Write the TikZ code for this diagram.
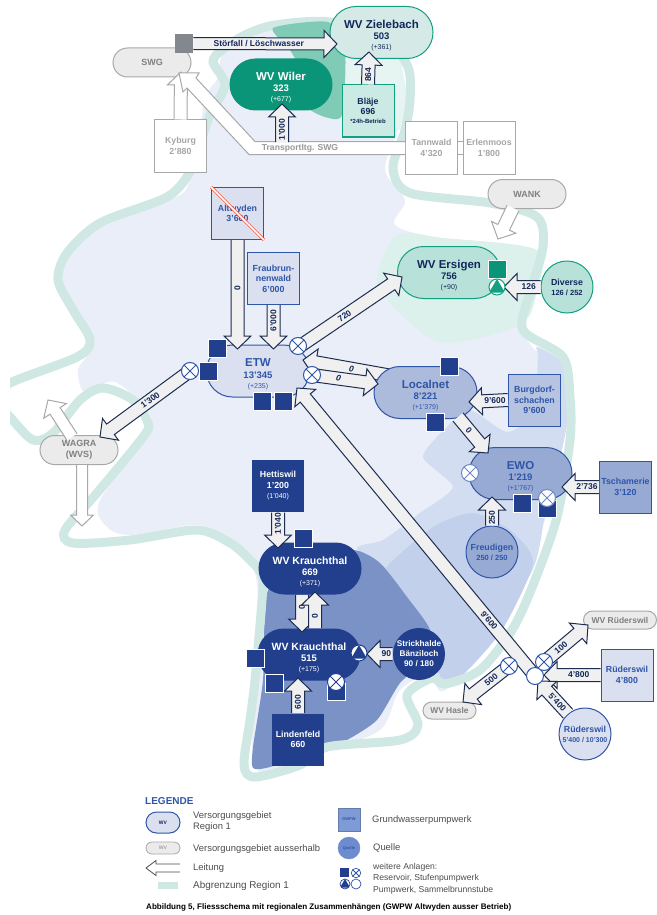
\documentclass[tikz,border=0pt]{standalone}
\usepackage{fontspec}
\setmainfont{Liberation Sans}
\usepackage{xcolor}
\usetikzlibrary{shapes.misc,calc}

\definecolor{lavender}{HTML}{E9EEF8}
\definecolor{zoneB}{HTML}{D2DDF1}
\definecolor{zoneC}{HTML}{C2D0EB}
\definecolor{zoneD}{HTML}{7A92C6}
\definecolor{bandteal}{HTML}{D0E8E3}
\definecolor{paleteal}{HTML}{DCF0EC}
\definecolor{midgreen}{HTML}{7FCBB6}
\definecolor{wvgreen}{HTML}{0B9578}
\definecolor{edgegreen}{HTML}{12A080}
\definecolor{navy}{HTML}{213F8C}
\definecolor{inkblue}{HTML}{2F55A8}
\definecolor{inkdark}{HTML}{12285A}
\definecolor{pipeline}{HTML}{1D2D50}
\definecolor{greyline}{HTML}{A8A8A8}
\definecolor{greytext}{HTML}{808080}
\definecolor{strike}{HTML}{F0583C}
\definecolor{leggwpwfill}{HTML}{7E9BD5}
\definecolor{legqfill}{HTML}{6D8CCF}

\pgfdeclarelayer{symbols}
\pgfsetlayers{main,symbols}

\tikzset{
    wvnode/.style={rounded rectangle,minimum width=103pt,minimum height=52pt,inner sep=0pt,
        align=center,line width=1pt,font=\fontsize{9.5}{12.5}\selectfont\bfseries},
    outnode/.style={rounded rectangle,minimum width=78pt,minimum height=29pt,inner sep=0pt,align=center,
        draw=greyline,fill=black!8,line width=1pt,text=greytext,
        font=\fontsize{9}{11}\selectfont\bfseries},
    gwpw/.style={rectangle,minimum size=52pt,inner sep=0pt,align=center,line width=1pt,
        font=\fontsize{8.8}{10.5}\selectfont\bfseries},
    greybox/.style={gwpw,draw=greyline,fill=white,text=black!35},
    quelle/.style={circle,minimum size=52pt,inner sep=0pt,align=center,line width=1pt,
        font=\fontsize{8.8}{10}\selectfont\bfseries},
    resbox/.style={rectangle,minimum size=18pt,inner sep=0pt,fill=#1,draw=white,line width=.5pt},
    resbox/.default=navy,
    xvalve/.style={circle,minimum size=17pt,inner sep=0pt,fill=white,draw=#1,line width=1pt,
        path picture={\draw[#1,line width=1pt]
            (path picture bounding box.north west) -- (path picture bounding box.south east)
            (path picture bounding box.north east) -- (path picture bounding box.south west);}},
    xvalve/.default=inkblue,
    pumpsym/.style={circle,minimum size=16pt,inner sep=0pt,fill=white,draw=#1,line width=1pt,
        path picture={\fill[#1]
            ($(path picture bounding box.south west)!.15!(path picture bounding box.north west)$)
            -- ($(path picture bounding box.south east)!.15!(path picture bounding box.north east)$)
            -- (path picture bounding box.north) -- cycle;}},
    brunnsym/.style={circle,minimum size=17pt,inner sep=0pt,fill=white,draw=inkblue,line width=1pt},
    pipebody/.style={draw=pipeline,fill=black!6,line width=1pt,miter limit=6},
    greypipe/.style={pipebody/.style={draw=greyline,fill=white,line width=1pt,miter limit=6}},
    legpipe/.style={pipebody/.style={draw=black!70,fill=white,line width=.8pt,miter limit=6}},
    pipelabel/.style={inner sep=0pt,text=inkdark,font=\fontsize{8.5}{9}\selectfont\bfseries},
    legtext/.style={anchor=west,inner sep=0pt,text=black!70,align=left,font=\fontsize{9.4}{11.5}\selectfont},
    pipew/.store in=\pipew, pipehw/.store in=\pipehw, pipehl/.store in=\pipehl, pipepos/.store in=\pipepos,
    pipew=6.5pt, pipehw=13.5pt, pipehl=13pt, pipepos=.5
}

% block arrow with open tail: [options]{from}{to}{label}{label angle}
\newcommand{\flowpipe}[5][]{
    \begin{scope}[#1]
        \coordinate (hb) at ($(#3)!\pipehl!(#2)$);
        \draw[pipebody] ($(#2)!\pipew!90:(#3)$) -- ($(hb)!\pipew!90:(#3)$)
            -- ($(hb)!\pipehw!90:(#3)$) -- (#3) -- ($(hb)!\pipehw!-90:(#3)$)
            -- ($(hb)!\pipew!-90:(#3)$) -- ($(#2)!\pipew!-90:(#3)$);
        \path (#2) -- (hb) node[pipelabel,pos=\pipepos,rotate=#5] {#4};
    \end{scope}
}
\newcommand{\wvtext}[3]{{\rule{0pt}{14pt}\fontsize{11.5}{13}\selectfont #1}\\[-1pt]{\fontsize{9.5}{12}\selectfont #2}\\[-2.5pt]{\fontsize{7}{9}\selectfont\mdseries #3}}

\begin{document}
\begin{tikzpicture}[x=1pt,y=-1pt]
    \useasboundingbox (0,0) rectangle (656,915);

    % Regions
    \fill[lavender] plot[smooth cycle,tension=0.55] coordinates {(222,56) (243,42) (275,28) (330,30) (395,62)
        (403,100) (398,130) (385,170) (405,200) (395,225) (440,238) (535,250) (537,290) (523,325) (535,350)
        (562,365) (568,400) (560,460) (545,520) (520,590) (448,688) (430,675) (400,690) (380,730) (325,750)
        (260,772) (252,700) (258,600) (250,560) (230,540) (197,525) (130,535) (105,525) (100,500) (145,440)
        (150,415) (115,382) (85,392) (78,370) (88,345) (62,280) (70,250) (100,228) (170,200) (190,180)
        (205,100) (218,78)};
    \fill[zoneB] plot[smooth cycle,tension=0.4] coordinates {(537,347) (562,362) (570,400) (563,445) (545,515)
        (530,575) (448,687) (430,640) (380,575) (357,548) (383,540) (420,513) (453,487) (423,457) (447,427)
        (470,410) (507,432) (533,413) (538,357)};
    \fill[zoneC] plot[smooth cycle,tension=0.4] coordinates {(383,572) (433,527) (473,513) (510,530) (533,563)
        (500,633) (448,687) (432,650) (400,600)};
    \fill[zoneD] plot[smooth cycle,tension=0.4] coordinates {(353,550) (380,563) (407,597) (430,630) (425,660)
        (400,683) (377,720) (347,740) (323,750) (270,767) (253,768) (253,747) (263,680) (267,593) (300,560)};
    \fill[paleteal] plot[smooth cycle,tension=0.5] coordinates {(397,235) (443,238) (537,250) (537,290)
        (523,323) (470,340) (433,340) (390,303) (377,277)};
    \fill[paleteal!70] (345,55) -- (400,55) -- (408,100) -- (400,130) -- (343,118) -- cycle;
    \begin{scope}
        \clip (10,0) rectangle (656,915);
        \draw[bandteal,line width=9pt] plot[smooth cycle,tension=0.5] coordinates {(213,62) (222,50) (245,35)
            (275,25) (330,22) (385,40) (408,67) (410,100) (405,130) (393,168) (410,193) (490,203) (537,217)
            (543,247) (530,293) (523,330) (563,357) (570,397) (570,440) (557,517) (533,585) (512,630) (480,670)
            (445,684) (432,678) (407,695) (418,725) (400,740) (327,747) (300,765) (255,777) (244,765) (250,720)
            (255,680) (262,600) (262,575) (247,557) (230,543) (197,530) (130,540) (73,543) (65,530) (97,493)
            (143,437) (148,423) (133,400) (103,388) (80,400) (53,433) (33,440) (10,417) (-5,400) (10,383)
            (77,357) (90,340) (73,310) (58,280) (67,253) (100,223) (167,197) (190,172) (198,150) (210,115) (225,85)};
    \end{scope}
    \fill[midgreen] plot[smooth cycle,tension=0.4] coordinates {(273,28) (328,22) (345,50) (342,115) (325,117)
        (305,105) (300,70) (290,50)};

    % Supply areas
    \node[wvnode,draw=edgegreen,fill=bandteal!90,text=inkdark] (zielebach) at (381.5,32.5) {\wvtext{WV Zielebach}{503}{(+361)}};
    \node[wvnode,fill=wvgreen,text=white] (wiler) at (281,84.5) {\wvtext{WV Wiler}{323}{(+677)}};
    \node[wvnode,draw=edgegreen,fill=edgegreen!30,text=inkdark] (ersigen) at (449,272.5) {\wvtext{WV Ersigen}{756}{(+90)}};
    \node[wvnode,draw=inkblue,fill=inkblue!18,text=inkblue] (etw) at (258,371) {\wvtext{ETW}{13'345}{(+235)}};
    \node[wvnode,draw=inkblue,fill=inkblue!50,text=inkblue] (ewo) at (520.5,473.5) {\wvtext{EWO}{1'219}{(+1'767)}};
    \node[wvnode,fill=navy,text=white] (krauchA) at (310,568.5) {\wvtext{\fontsize{10.5}{13}\selectfont WV Krauchthal}{669}{(+371)}};
    \node[wvnode,fill=navy,text=white] (krauchB) at (309,654.5) {\wvtext{\fontsize{10.5}{13}\selectfont WV Krauchthal}{515}{(+175)}};

    % Outside areas
    \node[outnode] (swg) at (152,62.5) {SWG};
    \node[outnode] (wank) at (527,194) {WANK};
    \node[outnode] (wagra) at (79,450) {WAGRA\\(WVS)};
    \node[outnode,minimum width=73pt,minimum height=18pt,font=\fontsize{8.5}{9}\selectfont\bfseries] (wvruederswil) at (620,620) {WV Rüderswil};
    \node[outnode,minimum width=53pt,minimum height=17pt,font=\fontsize{8.4}{9}\selectfont\bfseries] (hasle) at (449.5,710.5) {WV Hasle};

    % Pumping stations
    \node[gwpw,draw=edgegreen,fill=edgegreen!22,text=inkdark] (blaeje) at (368,111) {Bläje\\696\\[-1.5pt]{\fontsize{6}{8}\selectfont *24h-Betrieb}};
    \node[greybox] (kyburg) at (180.5,146) {Kyburg\\2'880};
    \node[greybox] (tannwald) at (431.5,148) {Tannwald\\4'320};
    \node[greybox] (erlenmoos) at (489,148) {Erlenmoos\\1'800};
    \node[gwpw,draw=inkblue,fill=inkblue!18,text=inkblue] (altwyden) at (237.5,213.5) {Altwyden\\3'600};
    \node[gwpw,draw=inkblue,fill=inkblue!18,text=inkblue] (fraubrunnen) at (273.5,278.5) {Fraubrun-\\nenwald\\6'000};
    \node[gwpw,draw=inkblue,fill=inkblue!35,text=inkblue] (burgdorf) at (534.5,400) {Burgdorf-\\schachen\\9'600};
    \node[gwpw,draw=inkblue,fill=inkblue!50,text=inkblue] (tschamerie) at (625.5,487) {Tschamerie\\3'120};
    \node[gwpw,fill=navy,text=white] (hettiswil) at (278,486) {Hettiswil\\1'200\\{\fontsize{7}{9}\selectfont\mdseries (1'040)}};
    \node[gwpw,fill=navy,text=white] (lindenfeld) at (298,739.5) {Lindenfeld\\660};
    \node[gwpw,draw=inkblue,fill=inkblue!18,text=inkblue] (ruederswilbox) at (627,675) {Rüderswil\\4'800};

    % Springs
    \node[quelle,draw=edgegreen,fill=edgegreen!30,text=inkdark] (diverse) at (567,287) {Diverse\\{\fontsize{7.5}{9}\selectfont 126 / 252}};
    \node[quelle,draw=inkblue,fill=inkblue!50,text=inkblue] (freudigen) at (492,552) {Freudigen\\{\fontsize{7.5}{9}\selectfont 250 / 250}};
    \node[quelle,fill=navy,text=white,font=\fontsize{8.2}{10}\selectfont\bfseries] (strickhalde) at (419,654) {Strickhalde\\Bänziloch\\90 / 180};
    \node[quelle,draw=inkblue,fill=inkblue!18,text=inkblue] (ruederswilq) at (585,734) {Rüderswil\\{\fontsize{7}{9}\selectfont 5'400 / 10'300}};

    % Small plants
    \begin{pgfonlayer}{symbols}
        \node[rectangle,minimum size=18.5pt,fill=black!55!cyan!20!gray,inner sep=0pt] (stoerbox) at (184,43.5) {};
        \node[resbox=wvgreen] (ersres) at (497.5,269.5) {};
        \node[pumpsym=edgegreen] (erspump) at (497,287) {};
        \node[xvalve] (xnorth) at (298,346) {};
        \node[xvalve] (xeast) at (312,375) {};
        \node[xvalve] (xwest) at (190,371) {};
        \node[resbox] at (217,348) {};
        \node[resbox] at (208,371) {};
        \node[resbox] at (262,401) {};
        \node[resbox] at (283,401) {};
        \node[resbox] at (449,366) {};
        \node[resbox] at (435,422) {};
        \node[xvalve=inkblue!70] at (470,473) {};
        \node[resbox] at (522,503) {};
        \node[resbox,minimum height=17pt] at (547,508.5) {};
        \node[xvalve=inkblue!70] at (547,498) {};
        \node[resbox] at (303,538) {};
        \node[resbox] at (255,658) {};
        \node[resbox] at (274,683) {};
        \node[pumpsym=navy] (krpump) at (359,653) {};
        \node[resbox,minimum height=17pt] at (336,691.5) {};
        \node[xvalve=navy] at (336,682) {};
        \node[brunnsym] (brunn) at (535,676) {};
        \node[xvalve] (xrueder) at (544,662) {};
        \node[xvalve] (xhasle) at (509,666) {};
    \end{pgfonlayer}

    % Free ends
    \coordinate (tipZiele) at (337,44);
    \coordinate (tipBlaeje) at (369,52);
    \coordinate (tipWiler) at (282,104);
    \coordinate (tailWiler) at (282,142);
    \coordinate (tipKyburg) at (181,72);
    \coordinate (tipWank) at (498,239);
    \coordinate (tailWank) at (513,208);
    \coordinate (tipAlt) at (237.5,349);
    \coordinate (tipFrau) at (273.5,349);
    \coordinate (tipErs) at (402,277);
    \coordinate (tailErs) at (298,347.5);
    \coordinate (tipDiv) at (504,287);
    \coordinate (tailLocA) at (395,376.5);
    \coordinate (tipEtw) at (303,360);
    \coordinate (tipLoc) at (378,384);
    \coordinate (tipBurg) at (469,402);
    \coordinate (tailEwo) at (458,417);
    \coordinate (tipEwo) at (488,453);
    \coordinate (tipTsch) at (562,487);
    \coordinate (tipFreu) at (492,497);
    \coordinate (tipHett) at (278,548);
    \coordinate (tailKrA) at (302,595);
    \coordinate (tipKrA) at (302,632);
    \coordinate (tailKrB) at (315,628);
    \coordinate (tipKrB) at (315,592);
    \coordinate (tipStrick) at (367,654);
    \coordinate (tipLind) at (298,678);
    \coordinate (tipMain) at (297,388);
    \coordinate (tipRw) at (588,625);
    \coordinate (tipRwBox) at (544,675);
    \coordinate (tipRwQ) at (538,681);
    \coordinate (tipHasle) at (463,702);
    \coordinate (tipWagra) at (100,437);
    \coordinate (tailUp) at (72,437);
    \coordinate (tipUp) at (48,400);
    \coordinate (tailDown) at (82,465);
    \coordinate (tipDown) at (82,526);

    % Grey links
    \flowpipe[greypipe]{kyburg.north}{tipKyburg}{}{0}
    \draw[greypipe,pipebody] ($(tannwald.west)+(0,-6.5)$) -- (255,141.5) -- (196,78) -- (199,73) -- (179,73) -- (183,92)
        -- (187,88) -- (249,154.5) -- ($(tannwald.west)+(0,6.5)$);
    \node[inner sep=0pt,text=black!40,font=\fontsize{8.6}{9}\selectfont\bfseries] (transport) at (300,148.5) {Transportltg. SWG};
    \draw[greyline,line width=1pt] ($(tannwald.east)+(0,-6.5)$) -- ($(erlenmoos.west)+(0,-6.5)$);
    \draw[greyline,line width=1pt] ($(tannwald.east)+(0,6.5)$) -- ($(erlenmoos.west)+(0,6.5)$);
    \flowpipe[greypipe]{tailWank}{tipWank}{}{0}
    \flowpipe[greypipe,pipew=6pt]{tailUp}{tipUp}{}{0}
    \flowpipe[greypipe,pipew=5.5pt,pipehw=11.5pt,pipehl=11pt]{tailDown}{tipDown}{}{0}

    % Dark links
    \flowpipe[pipew=6pt]{stoerbox.east}{tipZiele}{Störfall / Löschwasser}{0}
    \flowpipe{blaeje.north}{tipBlaeje}{864}{90}
    \flowpipe{tailWiler}{tipWiler}{1'000}{90}
    \flowpipe{altwyden.south}{tipAlt}{0}{90}
    \flowpipe{fraubrunnen.south}{tipFrau}{6'000}{90}
    \flowpipe{tailErs}{tipErs}{720}{34}
    \flowpipe{diverse.west}{tipDiv}{126}{0}
    \flowpipe[pipepos=.55]{tailLocA}{tipEtw}{\textit{0}}{-10}
    % Localnet lies over the tail of this link
    \node[wvnode,draw=inkblue,fill=inkblue!40,text=inkblue] (localnet) at (425.5,392.5) {\wvtext{Localnet}{8'221}{(+1'379)}};
    \flowpipe{xeast.center}{tipLoc}{\textit{0}}{-12}
    \flowpipe{burgdorf.west}{tipBurg}{9'600}{0}
    \flowpipe{tailEwo}{tipEwo}{0}{-50}
    \flowpipe{tschamerie.west}{tipTsch}{2'736}{0}
    \flowpipe{freudigen.north}{tipFreu}{250}{90}
    \flowpipe{hettiswil.south}{tipHett}{1'040}{90}
    \flowpipe{tailKrA}{tipKrA}{0}{90}
    \flowpipe{tailKrB}{tipKrB}{0}{90}
    \flowpipe{strickhalde.west}{tipStrick}{90}{0}
    \flowpipe{lindenfeld.north}{tipLind}{600}{90}
    \flowpipe[pipepos=.2]{brunn.center}{tipMain}{9'600}{-50.5}
    \flowpipe{xrueder.center}{tipRw}{100}{40}
    \flowpipe{ruederswilbox.west}{tipRwBox}{4'800}{0}
    \flowpipe{ruederswilq.130}{tipRwQ}{5'400}{-47}
    \flowpipe{xhasle.center}{tipHasle}{500}{38}
    \flowpipe{xwest.center}{tipWagra}{1'300}{36}

    % Struck out plant
    \draw[strike,double=white,double distance=1.6pt,line width=.7pt] (altwyden.north west) -- (altwyden.south east);

    % Legend
    \node[anchor=west,inner sep=0pt,text=inkblue,font=\fontsize{10}{11}\selectfont\bfseries] (legtitle) at (145,801) {LEGENDE};
    \node[rounded rectangle,minimum width=34pt,minimum height=21pt,inner sep=0pt,draw=inkblue,fill=inkblue!18,line width=1pt,text=inkdark,font=\fontsize{5}{6}\selectfont\bfseries] (legwv) at (163,822.5) {WV};
    \node[outnode,minimum width=34pt,minimum height=12pt,line width=.8pt,font=\fontsize{5}{6}\selectfont] (legout) at (163,848) {WV};
    \coordinate (legtail) at (180,868);
    \coordinate (legtip) at (146,868);
    \flowpipe[legpipe,pipew=4pt,pipehw=7.5pt,pipehl=10pt]{legtail}{legtip}{}{0}
    \fill[bandteal] (158,882) rectangle (178,889);
    \node[legtext] at (193,821.5) {Versorgungsgebiet\\Region 1};
    \node[legtext] at (193,849) {Versorgungsgebiet ausserhalb};
    \node[legtext] at (193,868) {Leitung};
    \node[legtext,font=\fontsize{9.9}{11.5}\selectfont] at (193,886) {Abgrenzung Region 1};
    \node[rectangle,minimum width=22pt,minimum height=23pt,inner sep=0pt,draw=leggwpwfill!80!black,fill=leggwpwfill,text=inkblue,font=\fontsize{4}{5}\selectfont\bfseries] (leggwpw) at (349,819.5) {GWPW};
    \node[circle,minimum size=22pt,inner sep=0pt,draw=inkblue!70,fill=legqfill,text=inkblue,font=\fontsize{4}{5}\selectfont\bfseries] (legq) at (349,848) {Quelle};
    \node[legtext] at (372,820) {Grundwasserpumpwerk};
    \node[legtext] at (373,848) {Quelle};
    \node[legtext,font=\fontsize{8.6}{11.5}\selectfont] at (373,878.5) {weitere Anlagen:\\Reservoir, Stufenpumpwerk\\Pumpwerk, Sammelbrunnstube};
    \node[rectangle,minimum size=9.5pt,inner sep=0pt,fill=navy] at (344.5,872.5) {};
    \node[xvalve,minimum size=9.5pt,line width=.7pt] at (356,873) {};
    \node[pumpsym=navy,minimum size=10pt,line width=.7pt] at (345,884) {};
    \node[brunnsym,minimum size=10pt,line width=.7pt] at (356,884) {};
    \node[anchor=west,inner sep=0pt,font=\fontsize{8.05}{9}\selectfont\bfseries] (caption) at (146,907) {Abbildung 5, Fliessschema mit regionalen Zusammenhängen (GWPW Altwyden ausser Betrieb)};
\end{tikzpicture}
\end{document}
